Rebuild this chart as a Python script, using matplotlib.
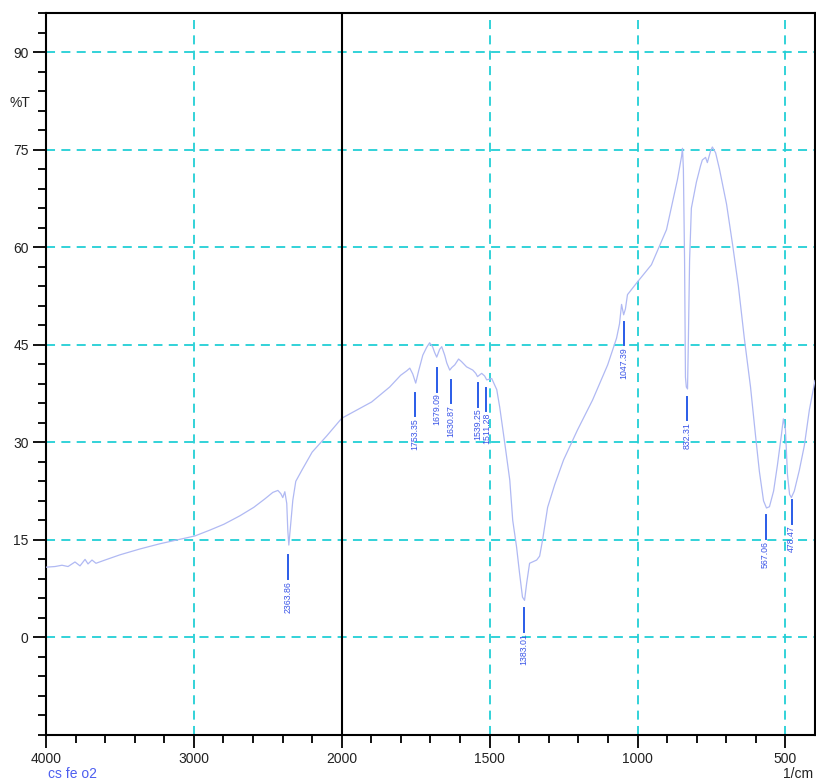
import matplotlib
matplotlib.use('Agg')
import matplotlib.pyplot as plt
import numpy as np
from matplotlib.ticker import FixedLocator, NullFormatter

# spectrum: wavenumber (1/cm) and %T
wavenumber = [4000, 3939, 3892, 3851, 3804, 3770, 3736, 3716, 3689, 3662, 3601, 3500, 3365,
              3230, 3074, 2993, 2892, 2797, 2689, 2595, 2520, 2466, 2432, 2412, 2399, 2385,
              2372, 2365, 2358, 2351, 2345, 2331, 2311, 2270, 2200, 2101, 2000,
              1899, 1838, 1801, 1780, 1770, 1760, 1750, 1740, 1726, 1713, 1703, 1693, 1686,
              1679, 1669, 1662, 1652, 1645, 1635, 1628, 1618, 1605, 1595, 1578, 1557, 1547,
              1541, 1527, 1517, 1510, 1493, 1476, 1466, 1449, 1432, 1422, 1409, 1399, 1389,
              1382, 1375, 1365, 1341, 1331, 1321, 1304, 1280, 1250, 1203, 1152, 1101, 1071,
              1061, 1054, 1047, 1041, 1034, 1003, 953, 902, 865, 851, 848, 845, 841, 838,
              835, 831, 828, 824, 818, 801, 787, 781, 770, 764, 753, 747, 736, 723, 699,
              679, 659, 639, 618, 601, 588, 574, 564, 554, 540, 527, 514, 507, 500, 493,
              486, 480, 470, 453, 436, 419, 400]
transmittance = [10.8, 10.9, 11.1, 10.9, 11.6, 11.0, 12.0, 11.3, 11.9, 11.4, 11.9, 12.7, 13.6,
                 14.4, 15.2, 15.6, 16.5, 17.4, 18.7, 20.0, 21.3, 22.3, 22.6, 22.1, 21.5, 22.4,
                 20.6, 16.5, 14.2, 16.0, 17.6, 21.1, 24.0, 25.7, 28.5, 31.0, 33.7,
                 36.2, 38.5, 40.3, 41.0, 41.4, 40.5, 39.1, 41.0, 43.4, 44.6, 45.3, 44.7, 43.8,
                 43.1, 44.3, 44.7, 43.4, 42.2, 41.1, 41.5, 41.9, 42.8, 42.4, 41.6, 41.1, 40.6,
                 40.1, 40.6, 40.2, 39.6, 39.8, 38.1, 35.4, 29.9, 24.2, 18.0, 13.9, 9.9, 6.2,
                 5.7, 8.3, 11.4, 11.9, 12.5, 15.0, 20.0, 23.5, 27.3, 31.9, 36.5, 41.9, 46.0,
                 48.2, 51.2, 49.6, 50.5, 52.7, 54.5, 57.3, 62.7, 70.4, 74.0, 75.2, 72.0, 58.0, 40.0,
                 38.5, 38.2, 46.0, 58.0, 66.0, 70.0, 72.5, 73.4, 73.8, 73.0, 74.8, 75.4, 74.5, 72.0, 66.6,
                 60.5, 54.0, 46.0, 38.5, 31.0, 25.5, 21.0, 19.9, 20.1, 22.5, 26.5, 31.0, 33.6, 32.0,
                 25.0, 22.0, 21.5, 22.5, 25.7, 29.5, 35.0, 39.5]

# picked peaks: position, label, top of marker line (%T)
peak_pos = [2363.86, 1753.35, 1679.09, 1630.87, 1539.25, 1511.28, 1383.01, 1047.39, 832.31, 567.06, 478.47]
peak_labels = ['2363.86', '1753.35', '1679.09', '1630.87', '1539.25', '1511.28', '1383.01',
               '1047.39', '832.31', '567.06', '478.47']
peak_top = [12.6, 37.6, 41.4, 39.6, 39.1, 38.4, 4.5, 48.5, 37.0, 18.8, 21.1]

x_major = [4000, 3000, 2000, 1500, 1000, 500]
y_major = [0, 15, 30, 45, 60, 75, 90]


def forward(w):
    w = np.asarray(w, dtype=float)
    return np.where(w <= 2000, w, 2000 + (w - 2000) / 2)


def inverse(v):
    v = np.asarray(v, dtype=float)
    return np.where(v <= 2000, v, 2000 + (v - 2000) * 2)


plt.rcParams['font.family'] = ['Liberation Sans', 'DejaVu Sans']

fig = plt.figure(figsize=(8.16, 7.83), dpi=100)
ax = fig.add_axes([46 / 816, 1 - 735 / 783, 769 / 816, 722 / 783])
ax.set_xscale('function', functions=(forward, inverse))
ax.set_xlim(4000, 400)
ax.set_ylim(-15, 96)

ax.plot(wavenumber, transmittance, color='#b0b9f3', lw=0.9, zorder=3)

for pos, lab, top in zip(peak_pos, peak_labels, peak_top):
    ax.plot([pos, pos], [top, top - 3.6], color='#2a5ce8', lw=1.4, zorder=4)
    ax.text(pos, top - 3.9, lab, rotation=90, ha='center', va='top',
            fontsize=6.3, color='#3a55e8', zorder=4)

ax.axvline(2000, color='black', lw=1.5, zorder=5)

ax.xaxis.set_major_locator(FixedLocator(x_major))
minor_x = [w for w in list(range(2200, 4000, 200)) + list(range(500, 2000, 100)) if w not in x_major]
ax.xaxis.set_minor_locator(FixedLocator(minor_x))
ax.xaxis.set_minor_formatter(NullFormatter())
ax.yaxis.set_major_locator(FixedLocator(y_major))
ax.yaxis.set_minor_locator(FixedLocator(list(range(-15, 97, 3))))
ax.yaxis.set_minor_formatter(NullFormatter())

ax.tick_params(which='major', length=9.5, width=1.3, labelsize=10, labelcolor='#222222', pad=3)
ax.tick_params(which='minor', length=5.5, width=1.3)
ax.grid(which='major', color='#22cfd6', ls=(0, (5, 3.5)), lw=1.3, zorder=1)

for sp in ax.spines.values():
    sp.set_linewidth(1.5)
    sp.set_color('black')

ax.text(-0.034, 0.876, '%T', transform=ax.transAxes, ha='center', va='center',
        fontsize=10, color='#222222')
fig.text(0.997, 1 - 774 / 783, '1/cm', ha='right', va='center', fontsize=10, color='#222222')
fig.text(72 / 816, 1 - 774 / 783, 'cs fe o2', ha='center', va='center', fontsize=10, color='#4d5ef0')

fig.savefig('out.png', dpi=100)
